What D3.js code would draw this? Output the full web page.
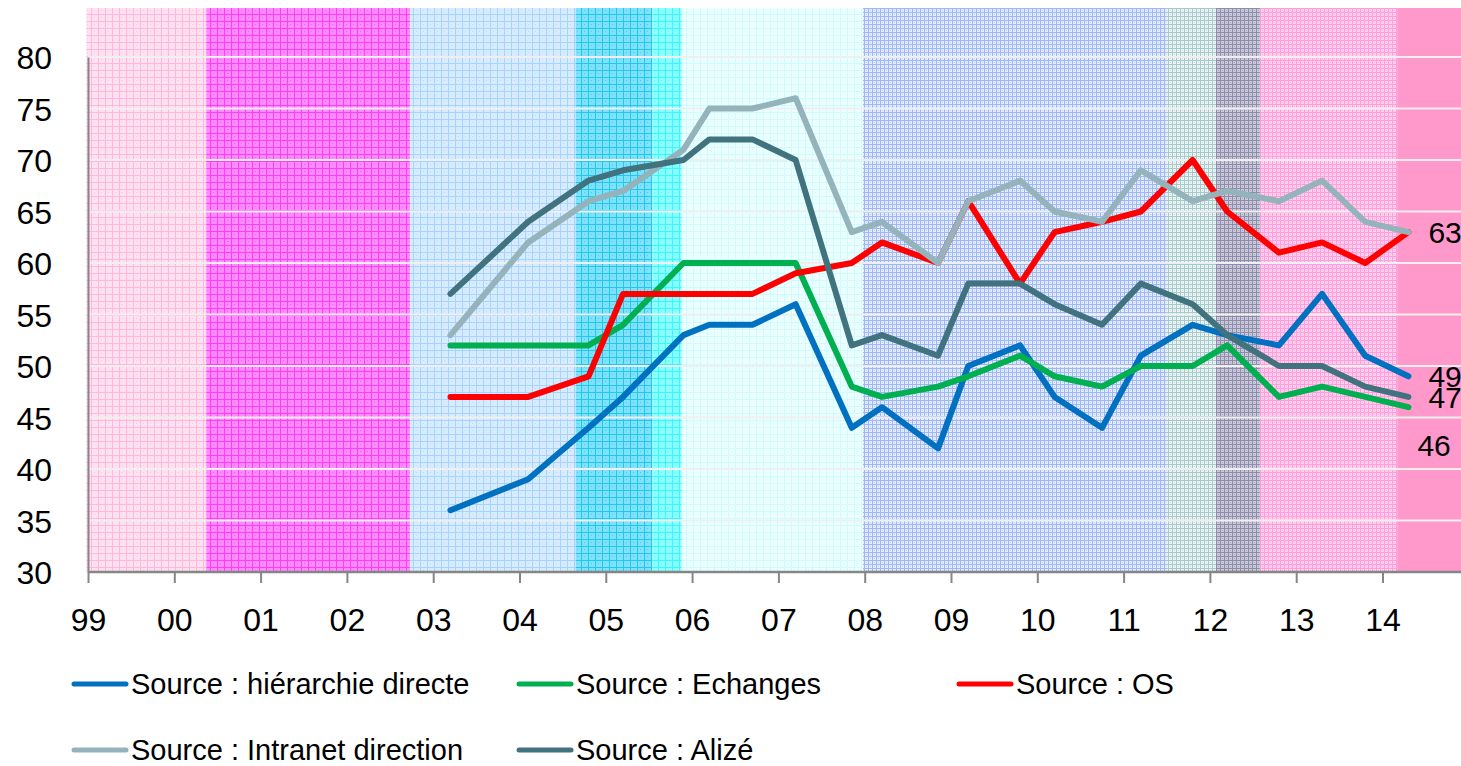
<!DOCTYPE html>
<html>
<head>
<meta charset="utf-8">
<script src="https://cdn.jsdelivr.net/npm/d3@7"></script>
<style>
  body { margin: 0; background: #fff; }
  svg { display: block; font-family: "Liberation Sans", Arial, sans-serif; }
</style>
</head>
<body>
<div id="chart"></div>
<script>
// survey dates (fractional years)
const dates = [2003.2, 2004.1, 2004.8, 2005.2, 2005.9, 2006.2, 2006.7, 2007.2, 2007.85, 2008.2, 2008.85,
  2009.2, 2009.8, 2010.2, 2010.75, 2011.2, 2011.8, 2012.2, 2012.8, 2013.3, 2013.8, 2014.3];

const hierarchie = [36, 39, 44, 47, 53, 54, 54, 56, 44, 46, 42, 50, 52, 47, 44, 51, 54, 53, 52, 57, 51, 49];
const echanges   = [52, 52, 52, 54, 60, 60, 60, 60, 48, 47, 48, 49, 51, 49, 48, 50, 50, 52, 47, 48, 47, 46];
const os         = [47, 47, 49, 57, 57, 57, 57, 59, 60, 62, 60, 66, 58, 63, 64, 65, 70, 65, 61, 62, 60, 63];
const intranet   = [53, 62, 66, 67, 71, 75, 75, 76, 63, 64, 60, 66, 68, 65, 64, 69, 66, 67, 66, 68, 64, 63];
const alize      = [57, 64, 68, 69, 70, 72, 72, 70, 52, 53, 51, 58, 58, 56, 54, 58, 56, 53, 50, 50, 48, 47];

// background period edges (years)
const periodEdges = [1998.98, 2000.37, 2002.73, 2004.65, 2005.54, 2005.88, 2007.98, 2011.5, 2012.07, 2012.58, 2014.17, 2016];

const xTickYears = d3.range(1999, 2015);
const xTickLabels = ["99", "00", "01", "02", "03", "04", "05", "06", "07", "08", "09", "10", "11", "12", "13", "14"];
const yTicks = [30, 35, 40, 45, 50, 55, 60, 65, 70, 75, 80];

const W = 1461, H = 766;
const plotLeft = 88, plotBottom = 572, plotTop = 57, bandTop = 8;

// style per series (drawing order = Excel order)
const series = [
  { name: "Source : hiérarchie directe", values: hierarchie, color: "#0070C0", lx: 20, ly: 0 },
  { name: "Source : Echanges", values: echanges, color: "#00B050", lx: 9, ly: 38 },
  { name: "Source : OS", values: os, color: "#FF0000", lx: null },
  { name: "Source : Intranet direction", values: intranet, color: "#95B3BB", lx: 20, ly: 0 },
  { name: "Source : Alizé", values: alize, color: "#41737F", lx: 20, ly: 0 }
];

// pattern style per period: base, line colour, cell size
const periodStyles = [
  { base: "#FFE2F1", line: "#FFB8DC", s: 7 },
  { base: "#FF8CFF", line: "#FF3DF5", s: 7 },
  { base: "#D8ECFF", line: "#A8D2FF", s: 7 },
  { base: "#7FE2FA", line: "#22C8EC", s: 7 },
  { base: "#8CFFFF", line: "#3DF5FF", s: 7 },
  { base: "#ECFFFF", line: "#CFFAFF", s: 7 },
  { base: "#E6EDFF", line: "#9DB6F4", s: 4 },
  { base: "#EDF5F5", line: "#A6CACC", s: 4 },
  { base: "#CBCBDC", line: "#8D8DAB", s: 4 },
  { base: "#FFD3EF", line: "#FF9EDC", s: 4 },
  { base: "#FF99CC", line: null, s: 4 }
];

const x = d3.scaleLinear().domain([1999, 2015]).range([plotLeft, plotLeft + 16 * 86.3]);
const y = d3.scaleLinear().domain([30, 80]).range([plotBottom, plotTop]);

const svg = d3.select("#chart").append("svg")
  .attr("width", W).attr("height", H);

const defs = svg.append("defs");
periodStyles.forEach((p, i) => {
  const pat = defs.append("pattern")
    .attr("id", "pat" + i)
    .attr("patternUnits", "userSpaceOnUse")
    .attr("width", p.s).attr("height", p.s);
  pat.append("rect").attr("width", p.s).attr("height", p.s).attr("fill", p.base);
  if (p.line) {
    pat.append("rect").attr("width", p.s).attr("height", 1).attr("fill", p.line);
    pat.append("rect").attr("width", 1).attr("height", p.s).attr("fill", p.line);
    pat.append("rect").attr("x", Math.floor(p.s / 2)).attr("y", Math.floor(p.s / 2))
      .attr("width", 1).attr("height", 1).attr("fill", p.line).attr("opacity", 0.6);
  }
});

// background periods
svg.append("g").selectAll("rect")
  .data(periodEdges.slice(0, -1))
  .join("rect")
  .attr("x", d => x(d))
  .attr("y", bandTop)
  .attr("width", (d, i) => x(periodEdges[i + 1]) - x(d))
  .attr("height", plotBottom - bandTop)
  .attr("fill", (d, i) => `url(#pat${i})`);

// gridlines
svg.append("g").selectAll("line")
  .data(yTicks.slice(1))
  .join("line")
  .attr("x1", plotLeft).attr("x2", W)
  .attr("y1", d => y(d)).attr("y2", d => y(d))
  .attr("stroke", "#EFEFEF")
  .attr("stroke-width", 2);

// y axis
const yAxis = svg.append("g")
  .attr("transform", `translate(${plotLeft},0)`)
  .call(d3.axisLeft(y).tickValues(yTicks).tickSize(0).tickSizeOuter(0).tickPadding(36));
yAxis.select(".domain").attr("stroke", "#868686").attr("stroke-width", 2);
yAxis.selectAll("text").style("font-size", "32px").attr("fill", "#000").attr("dy", "0.36em");

// x axis
const xAxis = svg.append("g")
  .attr("transform", `translate(0,${plotBottom})`)
  .call(d3.axisBottom(x).tickValues(xTickYears).tickSize(11).tickSizeOuter(0).tickPadding(25)
    .tickFormat((d, i) => xTickLabels[i]));
xAxis.select(".domain").attr("stroke", "#868686").attr("stroke-width", 2.5).attr("d", `M${plotLeft},0H${W}`);
xAxis.selectAll(".tick line").attr("stroke", "#868686").attr("stroke-width", 2);
xAxis.selectAll("text").style("font-size", "32px").attr("fill", "#000");

// series lines
const line = d3.line()
  .x((d, i) => x(dates[i]))
  .y(d => y(d));

svg.append("g").selectAll("path")
  .data(series)
  .join("path")
  .attr("d", d => line(d.values))
  .attr("fill", "none")
  .attr("stroke", d => d.color)
  .attr("stroke-width", 6)
  .attr("stroke-linejoin", "round")
  .attr("stroke-linecap", "round");

// last value labels
const lastIdx = dates.length - 1;
svg.append("g").selectAll("text")
  .data(series.filter(s => s.lx !== null))
  .join("text")
  .attr("x", d => x(dates[lastIdx]) + d.lx)
  .attr("y", d => y(d.values[lastIdx]) + d.ly)
  .attr("dy", "0.36em")
  .style("font-size", "30px")
  .attr("fill", "#000")
  .text(d => d.values[lastIdx]);

// legend
const legendPos = [[72, 684], [517, 684], [957, 684], [72, 750], [517, 750]];
const leg = svg.append("g").selectAll("g")
  .data(series)
  .join("g")
  .attr("transform", (d, i) => `translate(${legendPos[i][0]},${legendPos[i][1]})`);
leg.append("line")
  .attr("x1", 2).attr("x2", 54)
  .attr("stroke", d => d.color)
  .attr("stroke-width", 5)
  .attr("stroke-linecap", "round");
leg.append("text")
  .attr("x", 59)
  .attr("dy", "0.36em")
  .style("font-size", "29px")
  .attr("fill", "#000")
  .text(d => d.name);
</script>
</body>
</html>
